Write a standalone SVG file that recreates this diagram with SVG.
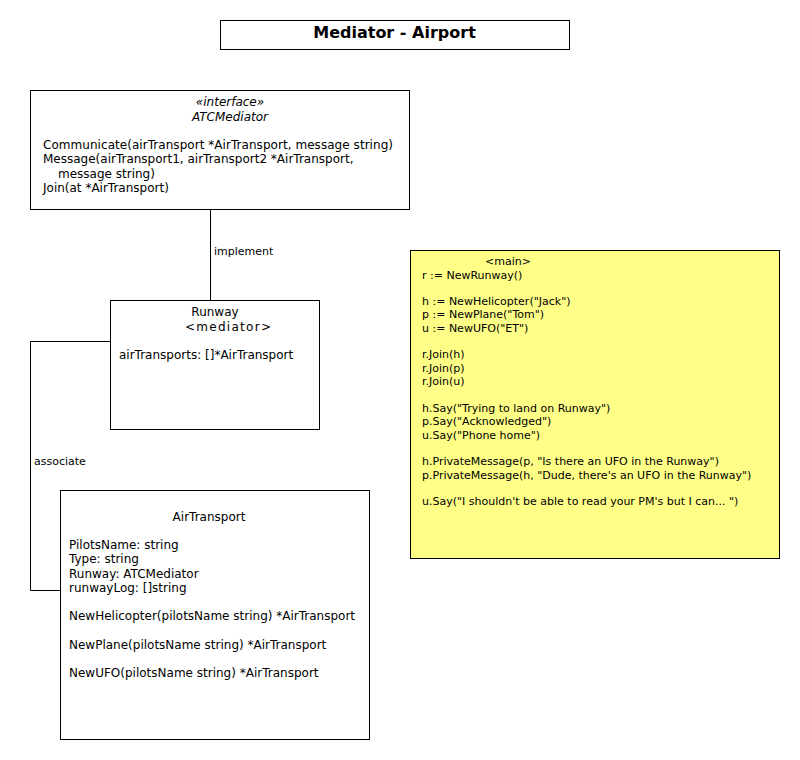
<svg xmlns="http://www.w3.org/2000/svg" width="800" height="760" viewBox="0 0 800 760">
<style>
text{font-family:"DejaVu Sans","Liberation Sans",sans-serif;fill:#000}
.box{fill:#fff;stroke:#000;stroke-width:1}
.note{fill:#ffff88;stroke:#000;stroke-width:1}
.t{font-size:12px}
.s{font-size:11px}
.c{text-anchor:middle}
.i{font-style:italic}
.edge{fill:none;stroke:#000;stroke-width:1}
</style>
<rect width="800" height="760" fill="#fff"/>
<g id="title">
<rect class="box" x="220.5" y="20.5" width="349" height="29"/>
<text x="394.5" y="38" class="c" style="font-size:16px;font-weight:bold">Mediator - Airport</text>
</g>
<g id="connectors">
<path class="edge" d="M210.5 209.5 V300.5"/>
<text x="214" y="255" class="s">implement</text>
<path class="edge" d="M110.5 341.5 H30.5 V590.5 H60.5"/>
<text x="34" y="465" class="s">associate</text>
</g>
<g id="atcmediator">
<rect class="box" x="30.5" y="90.5" width="379" height="119"/>
<text x="230" y="106" class="t c i">«interface»</text>
<text x="230" y="121" class="t c i">ATCMediator</text>
<text x="43" y="149" class="t" textLength="350">Communicate(airTransport *AirTransport, message string)</text>
<text x="43" y="163" class="t">Message(airTransport1, airTransport2 *AirTransport,</text>
<text x="58" y="178" class="t">message string)</text>
<text x="43" y="192" class="t">Join(at *AirTransport)</text>
</g>
<g id="runway">
<rect class="box" x="110.5" y="300.5" width="209" height="129"/>
<text x="215" y="316" class="t c">Runway</text>
<text x="185" y="331" class="t" textLength="86">&lt;mediator&gt;</text>
<text x="119" y="359" class="t">airTransports: []*AirTransport</text>
</g>
<g id="airtransport">
<rect class="box" x="60.5" y="490.5" width="309" height="249"/>
<text x="209" y="521" class="t c">AirTransport</text>
<text x="69" y="549" class="t">PilotsName: string</text>
<text x="69" y="563" class="t">Type: string</text>
<text x="69" y="578" class="t">Runway: ATCMediator</text>
<text x="69" y="592" class="t">runwayLog: []string</text>
<text x="69" y="620" class="t">NewHelicopter(pilotsName string) *AirTransport</text>
<text x="69" y="649" class="t">NewPlane(pilotsName string) *AirTransport</text>
<text x="69" y="677" class="t">NewUFO(pilotsName string) *AirTransport</text>
</g>
<g id="main-note">
<rect class="note" x="410.5" y="250.5" width="369" height="308"/>
<text x="508" y="265" class="s c">&lt;main&gt;</text>
<text x="422" y="279" class="s">r := NewRunway()</text>
<text x="422" y="305" class="s">h := NewHelicopter("Jack")</text>
<text x="422" y="318" class="s">p := NewPlane("Tom")</text>
<text x="422" y="332" class="s">u := NewUFO("ET")</text>
<text x="422" y="358" class="s">r.Join(h)</text>
<text x="422" y="372" class="s">r.Join(p)</text>
<text x="422" y="385" class="s">r.Join(u)</text>
<text x="422" y="412" class="s">h.Say("Trying to land on Runway")</text>
<text x="422" y="425" class="s">p.Say("Acknowledged")</text>
<text x="422" y="439" class="s">u.Say("Phone home")</text>
<text x="422" y="465" class="s">h.PrivateMessage(p, "Is there an UFO in the Runway")</text>
<text x="422" y="479" class="s">p.PrivateMessage(h, "Dude, there's an UFO in the Runway")</text>
<text x="422" y="505" class="s">u.Say("I shouldn't be able to read your PM's but I can... ")</text>
</g>
</svg>
